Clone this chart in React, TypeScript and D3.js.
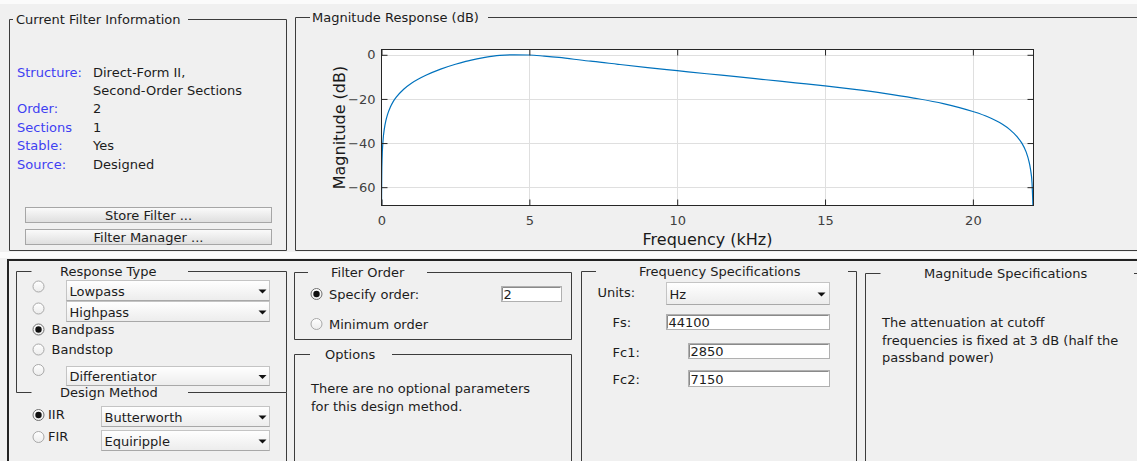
import React, { useEffect, useRef } from 'react';
import * as d3 from 'd3';

// magnitude response (kHz, dB)
const freqKHz = [0.001, 0.0027, 0.01, 0.02, 0.05, 0.1, 0.15, 0.2, 0.3, 0.4, 0.5, 0.75, 1, 1.25, 1.5, 2, 2.5, 2.85, 3, 3.5, 4, 4.5, 5, 5.5, 6, 7, 7.15, 8, 9, 10, 11, 12, 13, 14, 15, 16, 17, 18, 19, 20, 20.5, 21, 21.25, 21.5, 21.65, 21.8, 21.9, 21.95, 22, 22.04];
const magDb = [-73.2, -64.6, -53.2, -47.2, -39.2, -33.2, -29.7, -27.2, -23.7, -21.1, -19.2, -15.6, -13.0, -11.0, -9.3, -6.5, -4.3, -3.0, -2.5, -1.2, -0.3, -0.01, -0.1, -0.6, -1.2, -2.8, -3.0, -4.3, -5.8, -7.2, -8.6, -9.9, -11.3, -12.7, -14.1, -15.7, -17.5, -19.6, -22.1, -25.7, -28.1, -31.5, -33.9, -37.2, -39.9, -44.0, -48.5, -52.0, -58.0, -72.0];
const xTicks = [0, 5, 10, 15, 20];
const yTicks = [0, -20, -40, -60];

const infoLabels = ['Structure:', '', 'Order:', 'Sections', 'Stable:', 'Source:'];
const infoValues = ['Direct-Form II,', 'Second-Order Sections', '2', '1', 'Yes', 'Designed'];
const responseTypes = ['Lowpass', 'Highpass', 'Bandpass', 'Bandstop', 'Differentiator'];
const magSpecLines = ['The attenuation at cutoff', 'frequencies is fixed at 3 dB (half the', 'passband power)'];
const optionLines = ['There are no optional parameters', 'for this design method.'];

const FONT = '"DejaVu Sans", sans-serif';
const BORDER = '#3c3c3c';
const TEXT = '#1c1c1c';
const BLUE = '#3f3ff2';

const plot = { left: 381.5, right: 1033.5, top: 49.5, bottom: 205.5 };

function GroupBox({ x1, y, x2, y2, leftEnd, rightStart, title, titleX, noLeft, noBottom }: any) {
  return (
    <g stroke={BORDER} strokeWidth={1} fill="none">
      <line x1={x1} y1={y} x2={leftEnd} y2={y} />
      <line x1={rightStart} y1={y} x2={x2} y2={y} />
      {!noLeft && <line x1={x1} y1={y} x2={x1} y2={y2} />}
      {x2 < 1137 && <line x1={x2} y1={y} x2={x2} y2={y2} />}
      {y2 < 461 && !noBottom && <line x1={x1} y1={y2} x2={x2} y2={y2} />}
      <text x={titleX} y={y + 4.5} fill={TEXT} stroke="none" fontSize={13} fontFamily={FONT}>{title}</text>
    </g>
  );
}

function Radio({ cx, cy, on }: any) {
  return (
    <g>
      <circle cx={cx} cy={cy} r={5.5} fill="url(#radioGrad)" stroke={on ? '#707070' : '#a8a8a8'} strokeWidth={1} />
      {on && <circle cx={cx} cy={cy} r={3.2} fill="#111" />}
    </g>
  );
}

function Dropdown({ x, y, w, h, label, arrowOff = 7 }: any) {
  const ax = x + w - arrowOff;
  const ay = y + h / 2;
  return (
    <g>
      <rect x={x} y={y} width={w} height={h} fill="url(#ddGrad)" stroke="#c4c4c4" />
      <line x1={x} y1={y + h} x2={x + w} y2={y + h} stroke="#a8a8a8" />
      <text x={x + 3} y={ay + 5} fontSize={13} fontFamily={FONT} fill={TEXT}>{label}</text>
      <path d={`M${ax - 4},${ay - 1} L${ax + 4},${ay - 1} L${ax},${ay + 3} Z`} fill="#111" />
    </g>
  );
}

function EditBox({ x, y, w, h, value }: any) {
  return (
    <g>
      <rect x={x} y={y} width={w} height={h} fill="#fff" stroke="#b0b0b0" />
      <line x1={x + 1} y1={y + 1} x2={x + w - 1} y2={y + 1} stroke="#8a8a8a" />
      <line x1={x + 1} y1={y + 1} x2={x + 1} y2={y + h - 1} stroke="#8a8a8a" />
      <text x={x + 2} y={y + h / 2 + 5} fontSize={13} fontFamily={FONT} fill={TEXT}>{value}</text>
    </g>
  );
}

function Button({ x, y, w, h, label }: any) {
  return (
    <g>
      <rect x={x} y={y} width={w} height={h} fill="url(#btnGrad)" stroke="#a6a6a6" />
      <text x={x + w / 2} y={y + h / 2 + 5} textAnchor="middle" fontSize={13} fontFamily={FONT} fill={TEXT}>{label}</text>
    </g>
  );
}

const MagPlot: React.FC = () => {
  const ref = useRef<SVGGElement>(null);

  useEffect(() => {
    if (!ref.current) return;
    const g = d3.select(ref.current);
    g.selectAll('*').remove();

    const x = d3.scaleLinear().domain([0, 22.05]).range([plot.left, plot.right]);
    const y = d3.scaleLinear().domain([-68.3, 2.4]).range([plot.bottom, plot.top]);

    g.append('rect')
      .attr('x', plot.left).attr('y', plot.top)
      .attr('width', plot.right - plot.left).attr('height', plot.bottom - plot.top)
      .attr('fill', '#fff');

    // grid
    g.append('g').selectAll('line').data(xTicks.slice(1)).enter().append('line')
      .attr('x1', d => Math.round(x(d)) + 0.5).attr('x2', d => Math.round(x(d)) + 0.5)
      .attr('y1', plot.top).attr('y2', plot.bottom)
      .attr('stroke', '#dfdfdf');
    g.append('g').selectAll('line').data(yTicks).enter().append('line')
      .attr('y1', d => Math.round(y(d)) + 0.5).attr('y2', d => Math.round(y(d)) + 0.5)
      .attr('x1', plot.left).attr('x2', plot.right)
      .attr('stroke', '#dfdfdf');

    g.append('clipPath').attr('id', 'plotClip').append('rect')
      .attr('x', plot.left).attr('y', plot.top)
      .attr('width', plot.right - plot.left).attr('height', plot.bottom - plot.top);

    const line = d3.line<number>()
      .x((_, i) => x(freqKHz[i]))
      .y(d => y(d))
      .curve(d3.curveMonotoneX);

    g.append('path')
      .datum(magDb)
      .attr('clip-path', 'url(#plotClip)')
      .attr('d', line)
      .attr('fill', 'none')
      .attr('stroke', '#0072bd')
      .attr('stroke-width', 1.2);

    const styleAxis = (sel: any) => {
      sel.select('.domain').remove();
      sel.selectAll('line').attr('stroke', '#262626');
      sel.selectAll('text').attr('fill', '#404040').attr('font-size', 13).attr('font-family', FONT);
    };

    g.append('g').attr('transform', `translate(0,${plot.bottom})`)
      .call(d3.axisBottom(x).tickValues(xTicks).tickSizeInner(-6).tickSizeOuter(0).tickPadding(10))
      .call(styleAxis);
    g.append('g').attr('transform', `translate(0,${plot.top})`)
      .call(d3.axisTop(x).tickValues(xTicks).tickSizeInner(-6).tickSizeOuter(0).tickFormat(() => ''))
      .call(styleAxis);
    g.append('g').attr('transform', `translate(${plot.left},0)`)
      .call(d3.axisLeft(y).tickValues(yTicks).tickSizeInner(-6).tickSizeOuter(0).tickPadding(6))
      .call(styleAxis);
    g.append('g').attr('transform', `translate(${plot.right},0)`)
      .call(d3.axisRight(y).tickValues(yTicks).tickSizeInner(-6).tickSizeOuter(0).tickFormat(() => ''))
      .call(styleAxis);

    g.append('rect')
      .attr('x', plot.left).attr('y', plot.top)
      .attr('width', plot.right - plot.left).attr('height', plot.bottom - plot.top)
      .attr('fill', 'none').attr('stroke', '#262626');

    g.append('text')
      .attr('x', (plot.left + plot.right) / 2).attr('y', 245)
      .attr('text-anchor', 'middle').attr('font-size', 16).attr('font-family', FONT)
      .attr('fill', '#1a1a1a').text('Frequency (kHz)');
    g.append('text')
      .attr('transform', `translate(345,${(plot.top + plot.bottom) / 2}) rotate(-90)`)
      .attr('text-anchor', 'middle').attr('font-size', 16).attr('font-family', FONT)
      .attr('fill', '#1a1a1a').text('Magnitude (dB)');
  }, []);

  return <g ref={ref} />;
};

const App: React.FC = () => {
  const infoRowY = [77, 95, 113, 131.5, 150, 168.5];
  const respRowY = [291, 311.5, 333.5, 353.5, 376];
  const respRadioY = [286.5, 308.5, 329.5, 349.5, 370];
  const respOn = [false, false, true, false, false];

  return (
    <svg width={1137} height={461} style={{ position: 'absolute', left: 0, top: 0, display: 'block' }}>
      <defs>
        <linearGradient id="radioGrad" x1="0" y1="0" x2="0" y2="1">
          <stop offset="0%" stopColor="#ffffff" />
          <stop offset="100%" stopColor="#ececec" />
        </linearGradient>
        <linearGradient id="ddGrad" x1="0" y1="0" x2="0" y2="1">
          <stop offset="0%" stopColor="#ffffff" />
          <stop offset="100%" stopColor="#ececec" />
        </linearGradient>
        <linearGradient id="btnGrad" x1="0" y1="0" x2="0" y2="1">
          <stop offset="0%" stopColor="#fbfbfb" />
          <stop offset="100%" stopColor="#dedede" />
        </linearGradient>
      </defs>

      <rect x={0} y={0} width={1137} height={461} fill="#f0f0f0" />
      <rect x={0} y={0} width={1137} height={4} fill="#fbfbfb" />
      <rect x={0} y={252} width={1137} height={6} fill="#fbfbfb" />

      {/* current filter information */}
      <GroupBox x1={9.5} y={19.5} x2={286.5} y2={250.5} leftEnd={13} rightStart={188} title="Current Filter Information" titleX={16} />
      {infoLabels.map((t, i) => (
        <text key={'l' + i} x={17} y={infoRowY[i]} fontSize={13} fontFamily={FONT} fill={BLUE}>{t}</text>
      ))}
      {infoValues.map((t, i) => (
        <text key={'v' + i} x={93} y={infoRowY[i]} fontSize={13} fontFamily={FONT} fill={TEXT}>{t}</text>
      ))}
      <Button x={25.5} y={207.5} w={246} h={15} label="Store Filter ..." />
      <Button x={25.5} y={229.5} w={246} h={15} label="Filter Manager ..." />

      {/* magnitude response */}
      <GroupBox x1={295.5} y={17.5} x2={1137} y2={250.5} leftEnd={310} rightStart={488} title="Magnitude Response (dB)" titleX={312} />
      <MagPlot />

      {/* bottom frame */}
      <line x1={8} y1={260} x2={1137} y2={260} stroke="#222" strokeWidth={2} />
      <line x1={8} y1={259} x2={8} y2={461} stroke="#222" strokeWidth={2} />

      {/* response type */}
      <GroupBox x1={16.5} y={271.5} x2={286.5} y2={392.5} leftEnd={31.5} rightStart={188} title="Response Type" titleX={60} noBottom />
      {responseTypes.map((t, i) => (
        <Radio key={'r' + i} cx={38.5} cy={respRadioY[i]} on={respOn[i]} />
      ))}
      <Dropdown x={66.5} y={280.5} w={203} h={20} label={responseTypes[0]} />
      <Dropdown x={66.5} y={301.5} w={203} h={20} label={responseTypes[1]} />
      <text x={51.5} y={respRowY[2]} fontSize={13} fontFamily={FONT} fill={TEXT}>{responseTypes[2]}</text>
      <text x={51.5} y={respRowY[3]} fontSize={13} fontFamily={FONT} fill={TEXT}>{responseTypes[3]}</text>
      <Dropdown x={66.5} y={366.5} w={203} h={19} label={responseTypes[4]} />

      {/* design method */}
      <GroupBox x1={16.5} y={392.5} x2={286.5} y2={470} leftEnd={31.5} rightStart={188} title="Design Method" titleX={60} noLeft />
      <Radio cx={38.5} cy={415} on />
      <text x={48} y={419} fontSize={13} fontFamily={FONT} fill={TEXT}>IIR</text>
      <Dropdown x={101.5} y={406.5} w={168} h={20} label="Butterworth" />
      <Radio cx={38.5} cy={437} on={false} />
      <text x={48} y={441} fontSize={13} fontFamily={FONT} fill={TEXT}>FIR</text>
      <Dropdown x={101.5} y={430.5} w={168} h={20} label="Equiripple" />

      {/* filter order */}
      <GroupBox x1={294.5} y={272.5} x2={571.5} y2={339.5} leftEnd={308} rightStart={427} title="Filter Order" titleX={331} />
      <Radio cx={316.5} cy={294} on />
      <text x={329} y={298.5} fontSize={13} fontFamily={FONT} fill={TEXT}>Specify order:</text>
      <EditBox x={501.5} y={286.5} w={60} h={15} value="2" />
      <Radio cx={316.5} cy={324} on={false} />
      <text x={329} y={328.5} fontSize={13} fontFamily={FONT} fill={TEXT}>Minimum order</text>

      {/* options */}
      <GroupBox x1={294.5} y={354.5} x2={571.5} y2={470} leftEnd={310} rightStart={392} title="Options" titleX={325} />
      {optionLines.map((t, i) => (
        <text key={'o' + i} x={311} y={393 + i * 17.5} fontSize={13} fontFamily={FONT} fill={TEXT}>{t}</text>
      ))}

      {/* frequency specifications */}
      <GroupBox x1={581.5} y={271.5} x2={856.5} y2={470} leftEnd={596} rightStart={848} title="Frequency Specifications" titleX={639} />
      <text x={597.5} y={297} fontSize={13} fontFamily={FONT} fill={TEXT}>Units:</text>
      <Dropdown x={666.5} y={282.5} w={163} h={22} label="Hz" arrowOff={8} />
      <text x={612.5} y={327} fontSize={13} fontFamily={FONT} fill={TEXT}>Fs:</text>
      <EditBox x={666.5} y={314.5} w={163} h={15} value="44100" />
      <text x={612.5} y={357} fontSize={13} fontFamily={FONT} fill={TEXT}>Fc1:</text>
      <EditBox x={688.5} y={343.5} w={141} h={15} value="2850" />
      <text x={612.5} y={384} fontSize={13} fontFamily={FONT} fill={TEXT}>Fc2:</text>
      <EditBox x={688.5} y={370.5} w={141} h={16} value="7150" />

      {/* magnitude specifications */}
      <GroupBox x1={865.5} y={273.5} x2={1137} y2={470} leftEnd={880.5} rightStart={1134} title="Magnitude Specifications" titleX={924} />
      {magSpecLines.map((t, i) => (
        <text key={'m' + i} x={882} y={327 + i * 17.5} fontSize={13} fontFamily={FONT} fill={TEXT}>{t}</text>
      ))}
    </svg>
  );
};

export default App;
